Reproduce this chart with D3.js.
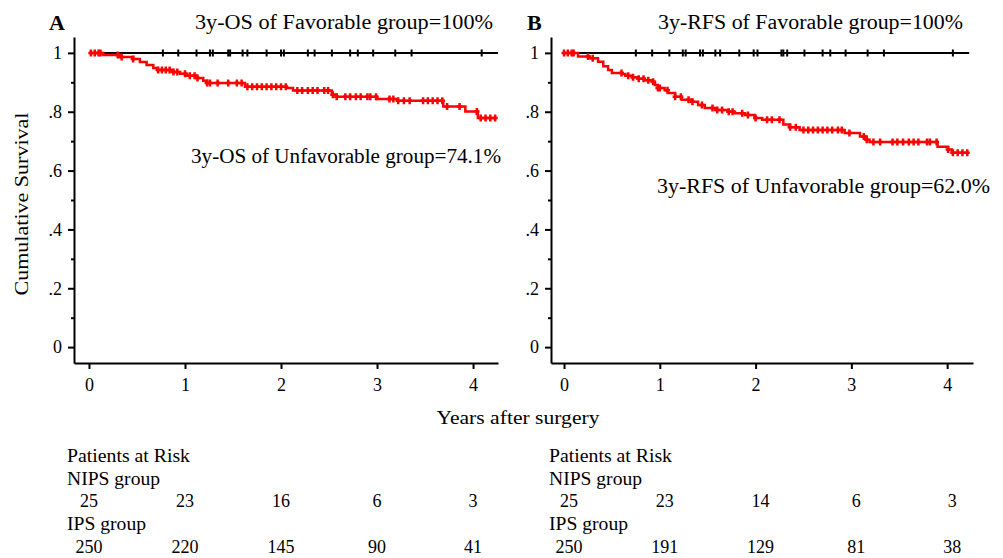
<!DOCTYPE html>
<html>
<head>
<meta charset="utf-8">
<script src="https://cdn.jsdelivr.net/npm/d3@7"></script>
<style>
  body { margin: 0; background: #fff; }
</style>
</head>
<body>
<svg id="km" width="1003" height="558"></svg>
<script>
// ---- data ----
var yearTicks = [0, 1, 2, 3, 4]
var survTicks = [0, 0.2, 0.4, 0.6, 0.8, 1]
var survMinor = [0.1, 0.3, 0.5, 0.7, 0.9]

// panel A: overall survival, unfavorable group (step times in years, survival after step)
var osUnfavTime = [0, 0.15, 0.32, 0.46, 0.53, 0.6, 0.67, 0.71, 0.875, 0.95, 1.02, 1.125, 1.19, 1.23, 1.625, 2.06, 2.125, 2.53, 2.58, 3.0, 3.21, 3.69, 3.92, 4.05]
var osUnfavSurv = [1, 0.993, 0.986, 0.979, 0.969, 0.959, 0.949, 0.942, 0.935, 0.929, 0.922, 0.915, 0.905, 0.898, 0.885, 0.881, 0.872, 0.858, 0.851, 0.843, 0.837, 0.818, 0.801, 0.779]
var osUnfavEnd = 4.25
var osUnfavCensor = [0.02, 0.06, 0.1, 0.12, 0.3, 0.34, 0.46, 0.72, 0.76, 0.8, 0.84, 0.88, 0.92, 1.0, 1.05, 1.1, 1.13, 1.23, 1.26, 1.34, 1.45, 1.54, 1.59, 1.65, 1.7, 1.75, 1.8, 1.85, 1.9, 1.95, 2.0, 2.05, 2.17, 2.22, 2.28, 2.33, 2.38, 2.45, 2.49, 2.54, 2.58, 2.67, 2.72, 2.78, 2.83, 2.9, 2.93, 2.99, 3.13, 3.17, 3.22, 3.28, 3.34, 3.48, 3.53, 3.58, 3.63, 3.68, 3.73, 3.86, 4.04, 4.08, 4.13, 4.18, 4.23]
var osFavEnd = 4.26
var osFavCensor = [0.77, 0.93, 1.12, 1.26, 1.29, 1.45, 1.47, 1.6, 1.65, 1.85, 2.0, 2.03, 2.28, 2.35, 2.53, 2.72, 2.8, 2.96, 3.19, 3.36, 4.09]

// panel B: recurrence-free survival, unfavorable group
var rfsUnfavTime = [0, 0.146, 0.27, 0.355, 0.41, 0.46, 0.5, 0.605, 0.64, 0.71, 0.77, 0.845, 0.92, 0.95, 0.98, 1.05, 1.085, 1.16, 1.23, 1.34, 1.4, 1.47, 1.58, 1.71, 1.785, 1.89, 1.99, 2.07, 2.29, 2.36, 2.46, 2.93, 3.09, 3.16, 3.19, 3.9, 4.01, 4.05]
var rfsUnfavSurv = [1, 0.988, 0.982, 0.97, 0.955, 0.942, 0.932, 0.928, 0.922, 0.917, 0.912, 0.907, 0.902, 0.891, 0.881, 0.873, 0.864, 0.851, 0.841, 0.834, 0.823, 0.813, 0.806, 0.8, 0.795, 0.789, 0.779, 0.773, 0.757, 0.747, 0.738, 0.728, 0.716, 0.705, 0.697, 0.681, 0.672, 0.661]
var rfsUnfavEnd = 4.22
var rfsUnfavCensor = [0.0, 0.04, 0.08, 0.1, 0.25, 0.3, 0.6, 0.67, 0.72, 0.78, 0.83, 0.88, 0.93, 0.98, 1.0, 1.08, 1.16, 1.22, 1.3, 1.34, 1.44, 1.55, 1.6, 1.65, 1.72, 1.76, 1.86, 1.92, 2.0, 2.12, 2.17, 2.25, 2.36, 2.42, 2.5, 2.55, 2.6, 2.65, 2.7, 2.75, 2.8, 2.86, 2.9, 2.98, 3.13, 3.16, 3.23, 3.3, 3.43, 3.48, 3.54, 3.6, 3.65, 3.7, 3.79, 3.82, 3.89, 4.01, 4.06, 4.11, 4.16, 4.21]
var rfsFavEnd = 4.23
var rfsFavCensor = [0.75, 0.92, 1.1, 1.24, 1.27, 1.42, 1.45, 1.58, 1.63, 1.83, 1.98, 2.02, 2.27, 2.29, 2.33, 2.51, 2.7, 2.78, 2.94, 3.17, 3.34, 4.06]

// patients at risk
var riskNipsOS = [25, 23, 16, 6, 3]
var riskIpsOS = [250, 220, 145, 90, 41]
var riskNipsRFS = [25, 23, 14, 6, 3]
var riskIpsRFS = [250, 191, 129, 81, 38]

// ---- drawing ----
var serif = "'Liberation Serif', 'Times New Roman', 'DejaVu Serif', serif"
var svg = d3.select("#km")
var yScale = d3.scaleLinear().domain([-0.054, 1.054]).range([363, 37])

var panels = [
  {letter: "A", xRange: [74, 498], xDomain: [-0.156, 4.26],
   favText: "3y-OS of Favorable group=100%", favX: 195, favW: 298,
   unfText: "3y-OS of Unfavorable group=74.1%", unfX: 191, unfY: 163, unfW: 310,
   time: osUnfavTime, surv: osUnfavSurv, end: osUnfavEnd, censor: osUnfavCensor,
   favEnd: osFavEnd, favCensor: osFavCensor, nips: riskNipsOS, ips: riskIpsOS,
   labelX: 67, letterX: 49, numShift: 0},
  {letter: "B", xRange: [551, 973], xDomain: [-0.136, 4.27],
   favText: "3y-RFS of Favorable group=100%", favX: 658, favW: 305,
   unfText: "3y-RFS of Unfavorable group=62.0%", unfX: 657, unfY: 193, unfW: 333,
   time: rfsUnfavTime, surv: rfsUnfavSurv, end: rfsUnfavEnd, censor: rfsUnfavCensor,
   favEnd: rfsFavEnd, favCensor: rfsFavCensor, nips: riskNipsRFS, ips: riskIpsRFS,
   labelX: 549, letterX: 527, numShift: 5}
]

function survAt(p, t) {
  var i = d3.bisectRight(p.time, t) - 1
  return p.surv[Math.max(0, i)]
}

function censorPath(x, y) {
  return "M" + (x - 2.5) + "," + y + "H" + (x + 2.5) + "M" + x + "," + (y - 3.5) + "V" + (y + 3.5)
}

panels.forEach(function(p) {
  var xScale = d3.scaleLinear().domain(p.xDomain).range(p.xRange)
  var g = svg.append("g")

  // axes
  var yAxis = d3.axisLeft(yScale).tickValues(survTicks).tickSize(6).tickSizeOuter(0)
    .tickFormat(function(d) { return d === 0 ? "0" : d === 1 ? "1" : "." + Math.round(d * 10) })
  var gy = g.append("g").attr("transform", "translate(" + p.xRange[0] + ",0)").call(yAxis)
  g.append("g").attr("transform", "translate(" + p.xRange[0] + ",0)")
    .call(d3.axisLeft(yScale).tickValues(survMinor).tickSize(3).tickFormat(""))
    .select(".domain").remove()

  var xAxis = d3.axisBottom(xScale).tickValues(yearTicks).tickSize(6).tickSizeOuter(0)
    .tickFormat(d3.format("d"))
  var gx = g.append("g").attr("transform", "translate(0,363)").call(xAxis)

  g.selectAll(".domain").attr("stroke-width", 2)
  g.selectAll(".tick line").attr("stroke-width", 2)
  gy.attr("font-family", serif)
  gx.attr("font-family", serif)
  gy.selectAll(".tick text").attr("font-size", 18).attr("x", -12)
  gx.selectAll(".tick text").attr("font-size", 18).attr("y", 15)

  // favourable group: flat line at 1
  g.append("line")
    .attr("x1", xScale(0)).attr("x2", xScale(p.favEnd))
    .attr("y1", yScale(1)).attr("y2", yScale(1))
    .attr("stroke", "#000").attr("stroke-width", 2)
  g.append("g").selectAll("path").data(p.favCensor).enter().append("path")
    .attr("d", function(d) { return censorPath(xScale(d), yScale(1)) })
    .attr("stroke", "#000").attr("stroke-width", 2).attr("fill", "none")

  // unfavourable group: step curve
  var pts = p.time.map(function(t, i) { return [t, p.surv[i]] })
  pts.push([p.end, p.surv[p.surv.length - 1]])
  var line = d3.line().x(d => xScale(d[0])).y(d => yScale(d[1])).curve(d3.curveStepAfter)
  g.append("path").datum(pts).attr("d", line)
    .attr("fill", "none").attr("stroke", "#ff0000").attr("stroke-width", 2.5)
  g.append("g").selectAll("path").data(p.censor).enter().append("path")
    .attr("d", function(d) { return censorPath(xScale(d), yScale(survAt(p, d))) })
    .attr("stroke", "#ff0000").attr("stroke-width", 2.5).attr("fill", "none")

  // annotations
  var txt = g.append("g").attr("font-family", serif)
  txt.append("text").attr("x", p.letterX).attr("y", 30).attr("font-size", 22)
    .attr("font-weight", "bold").text(p.letter)
  txt.append("text").attr("x", p.favX).attr("y", 29).attr("font-size", 20)
    .attr("textLength", p.favW).attr("lengthAdjust", "spacingAndGlyphs").text(p.favText)
  txt.append("text").attr("x", p.unfX).attr("y", p.unfY).attr("font-size", 20)
    .attr("textLength", p.unfW).attr("lengthAdjust", "spacingAndGlyphs").text(p.unfText)

  // patients at risk table
  var rows = [
    {y: 462, text: "Patients at Risk", w: 123},
    {y: 485, text: "NIPS group", w: 93},
    {y: 530, text: "IPS group", w: 79}
  ]
  txt.selectAll(".risk-label").data(rows).enter().append("text")
    .attr("class", "risk-label")
    .attr("x", p.labelX).attr("y", d => d.y).attr("font-size", 19)
    .attr("textLength", d => d.w).attr("lengthAdjust", "spacingAndGlyphs")
    .text(d => d.text)
  txt.selectAll(".risk-nips").data(p.nips).enter().append("text")
    .attr("class", "risk-nips")
    .attr("x", (d, i) => xScale(yearTicks[i]) + p.numShift).attr("y", 507)
    .attr("font-size", 18).attr("text-anchor", "middle").text(d => d)
  txt.selectAll(".risk-ips").data(p.ips).enter().append("text")
    .attr("class", "risk-ips")
    .attr("x", (d, i) => xScale(yearTicks[i]) + p.numShift).attr("y", 553)
    .attr("font-size", 18).attr("text-anchor", "middle").text(d => d)
})

// shared axis titles
var titles = svg.append("g").attr("font-family", serif)
titles.append("text")
  .attr("transform", "translate(28,204) rotate(-90)")
  .attr("text-anchor", "middle").attr("font-size", 19)
  .attr("textLength", 183).attr("lengthAdjust", "spacingAndGlyphs")
  .text("Cumulative Survival")
titles.append("text")
  .attr("x", 518).attr("y", 424)
  .attr("text-anchor", "middle").attr("font-size", 19)
  .attr("textLength", 163).attr("lengthAdjust", "spacingAndGlyphs")
  .text("Years after surgery")
</script>
</body>
</html>
